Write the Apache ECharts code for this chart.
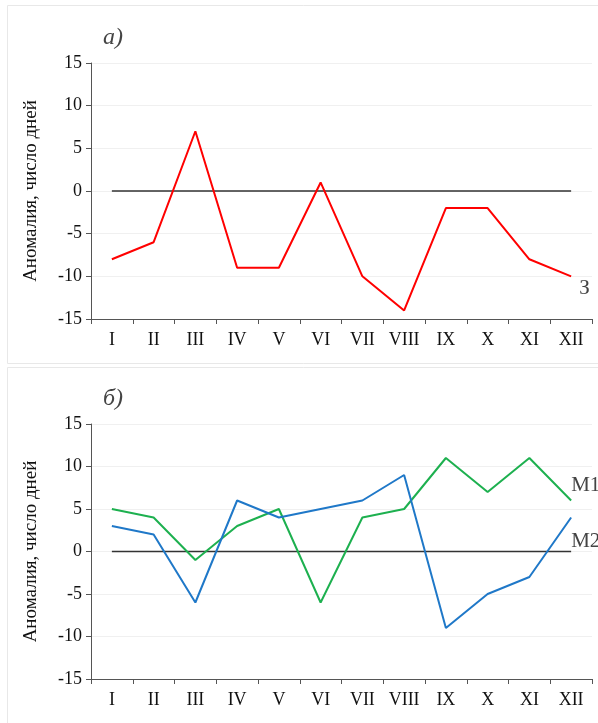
<!DOCTYPE html>
<html>
<head>
<meta charset="utf-8">
<script src="https://cdn.jsdelivr.net/npm/echarts@6/dist/echarts.min.js"></script>
<style>
  html, body { margin: 0; padding: 0; background: #fff; }
  #chart { width: 598px; height: 723px; }
</style>
</head>
<body>
<div id="chart"></div>
<script>
// месяцы и аномалии (число дней)
var months = ['I', 'II', 'III', 'IV', 'V', 'VI', 'VII', 'VIII', 'IX', 'X', 'XI', 'XII'];
var seriesZ = [-8, -6, 7, -9, -9, 1, -10, -14, -2, -2, -8, -10];
var seriesM1 = [5, 4, -1, 3, 5, -6, 4, 5, 11, 7, 11, 6];
var seriesM2 = [3, 2, -6, 6, 4, 5, 6, 9, -9, -5, -3, 4];
var zeroLine = [0, 0, 0, 0, 0, 0, 0, 0, 0, 0, 0, 0];

var serif = '"Liberation Serif", "DejaVu Serif", serif';
var chart = echarts.init(document.getElementById('chart'));

function xAxisFor(idx) {
    return {
        type: 'category',
        gridIndex: idx,
        data: months,
        boundaryGap: true,
        position: 'bottom',
        axisLine: { onZero: false, lineStyle: { color: '#555', width: 1 } },
        axisTick: { show: true, length: 5, lineStyle: { color: '#555' } },
        axisLabel: { color: '#111', fontFamily: serif, fontSize: 18, margin: 12 },
        splitLine: { show: false }
    };
}

function yAxisFor(idx) {
    return {
        type: 'value',
        gridIndex: idx,
        min: -15, max: 15, interval: 5,
        name: 'Аномалия, число дней',
        nameLocation: 'middle',
        nameGap: 50,
        nameTextStyle: { color: '#111', fontFamily: serif, fontSize: 19 },
        axisLine: { show: true, lineStyle: { color: '#555', width: 1 } },
        axisTick: { show: true, length: 5, lineStyle: { color: '#555' } },
        axisLabel: { color: '#111', fontFamily: serif, fontSize: 18, margin: 9 },
        splitLine: { show: true, lineStyle: { color: '#f0f0f0', width: 1 } }
    };
}

function lineSeries(idx, data, color, width) {
    return {
        type: 'line',
        xAxisIndex: idx,
        yAxisIndex: idx,
        data: data,
        symbol: 'none',
        silent: true,
        lineStyle: { color: color, width: width }
    };
}

function endLabel(text, dx, dy) {
    return {
        show: true,
        formatter: text,
        color: '#444',
        fontFamily: serif,
        fontSize: 21,
        offset: [dx, dy]
    };
}

var zS = lineSeries(0, seriesZ, '#ff0000', 2);
zS.endLabel = endLabel('З', 0, 12);
var m1S = lineSeries(1, seriesM1, '#1db04f', 2);
m1S.endLabel = endLabel('М1', -8, -15);
var m2S = lineSeries(1, seriesM2, '#1f78c8', 2);
m2S.endLabel = endLabel('М2', -8, 24);

var option = {
    animation: false,
    backgroundColor: '#fff',
    grid: [
        { left: 91, top: 63, width: 501, height: 256 },
        { left: 91, top: 424, width: 501, height: 255 }
    ],
    xAxis: [xAxisFor(0), xAxisFor(1)],
    yAxis: [yAxisFor(0), yAxisFor(1)],
    graphic: [
        { type: 'rect', shape: { x: 7.5, y: 5.5, width: 600, height: 358 },
          style: { fill: 'none', stroke: '#e8e8e8', lineWidth: 1 }, z: -1 },
        { type: 'rect', shape: { x: 7.5, y: 367.5, width: 600, height: 400 },
          style: { fill: 'none', stroke: '#e8e8e8', lineWidth: 1 }, z: -1 },
        { type: 'text', left: 103, top: 26,
          style: { text: 'а)', fontFamily: serif, fontStyle: 'italic', fontSize: 24, fill: '#444' } },
        { type: 'text', left: 103, top: 387,
          style: { text: 'б)', fontFamily: serif, fontStyle: 'italic', fontSize: 24, fill: '#444' } }
    ],
    series: [
        lineSeries(0, zeroLine, '#333', 1.5),
        zS,
        lineSeries(1, zeroLine, '#333', 1.5),
        m1S,
        m2S
    ]
};

chart.setOption(option);
</script>
</body>
</html>
